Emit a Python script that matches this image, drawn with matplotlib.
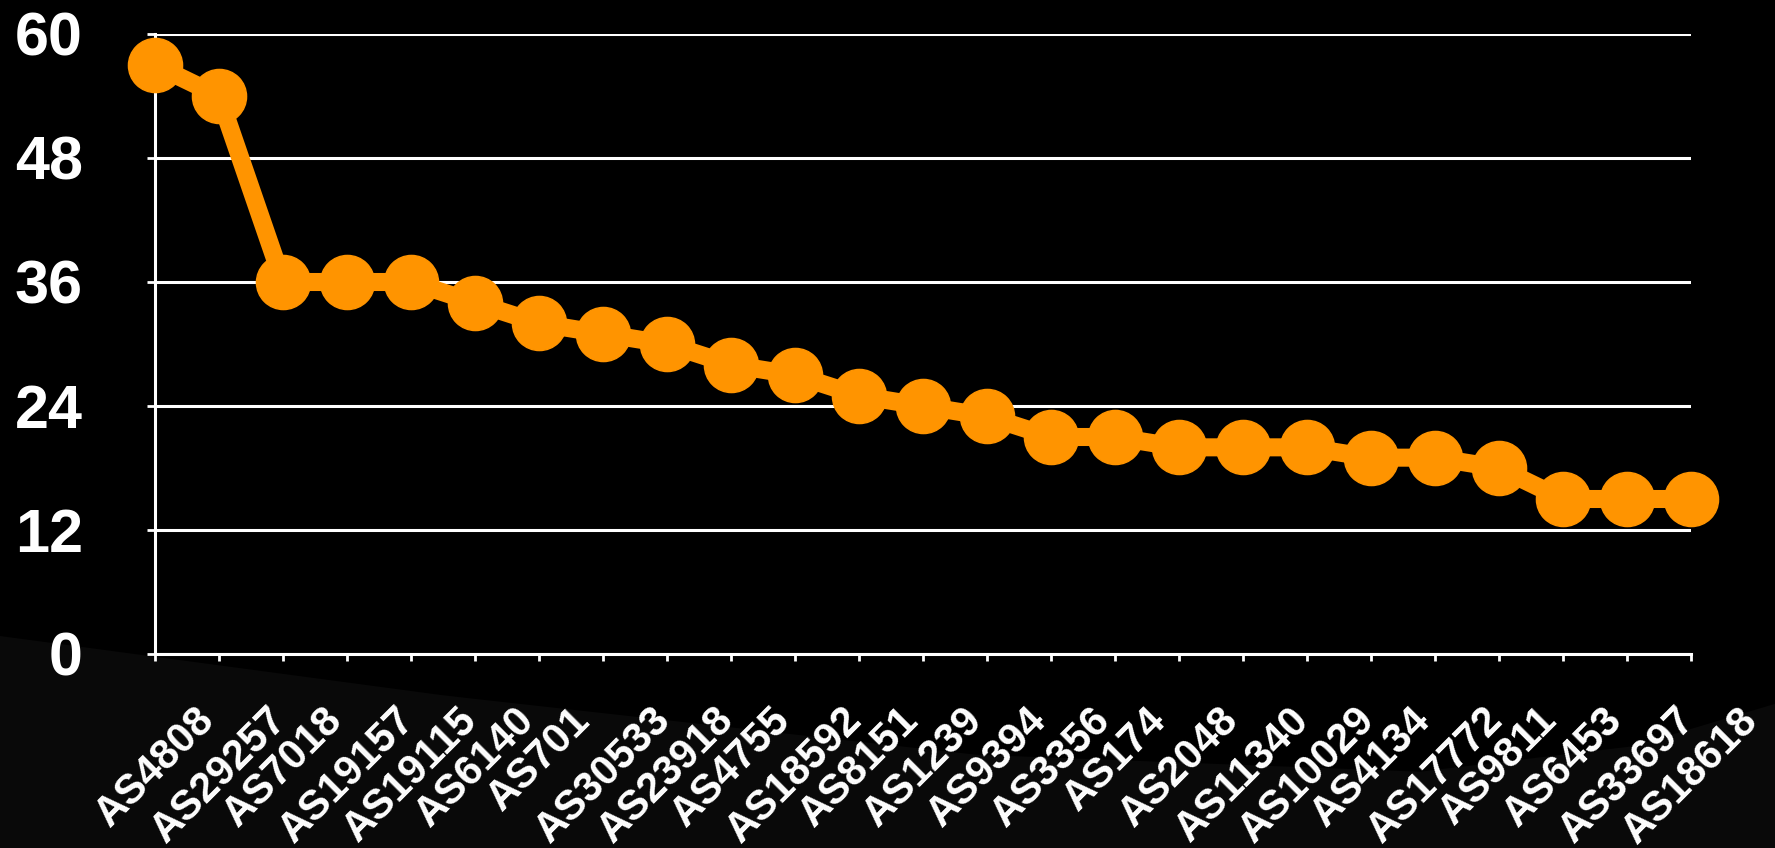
import numpy as np
import matplotlib.pyplot as plt
from matplotlib.patches import Polygon

# AS names and counts
asns = ["AS4808", "AS29257", "AS7018", "AS19157", "AS19115", "AS6140", "AS701",
        "AS30533", "AS23918", "AS4755", "AS18592", "AS8151", "AS1239", "AS9394",
        "AS3356", "AS174", "AS2048", "AS11340", "AS10029", "AS4134", "AS17772",
        "AS9811", "AS6453", "AS33697", "AS18618"]
counts = [57, 54, 36, 36, 36, 34, 32, 31, 30, 28, 27, 25, 24, 23, 21, 21,
          20, 20, 20, 19, 19, 18, 15, 15, 15]
yticks = [0, 12, 24, 36, 48, 60]

plt.rcParams['font.family'] = ['Liberation Sans', 'DejaVu Sans']

fig = plt.figure(figsize=(17.75, 8.48), dpi=100, facecolor='black')

# faint background swoosh
swoosh = Polygon([[0, 0.25], [0.25, 0.18], [0.55, 0.11], [0.8, 0.09], [0.92, 0.12],
                  [1.0, 0.17], [1.0, 0.0], [0, 0.0]], closed=True, transform=fig.transFigure,
                 facecolor='#090909', edgecolor='none', zorder=-10)
fig.patches.append(swoosh)

ax = fig.add_axes([155 / 1775, 1 - 654 / 848, (1691 - 155) / 1775, (654 - 34) / 848])
ax.set_facecolor('none')
ax.set_zorder(5)

x = np.arange(len(asns))
ax.plot(x, counts, '-o', color='#ff9400', lw=13, markersize=39, clip_on=False, zorder=3)

ax.set_xlim(0, len(asns) - 1)
ax.set_ylim(0, 60)
ax.set_yticks(yticks)
ax.set_xticks(x)
ax.set_xticklabels(asns, rotation=45, ha='center', va='top', fontsize=30,
                   fontweight='bold', color='white')
ax.set_yticklabels([str(t) for t in yticks], fontsize=44, fontweight='bold', color='white')
ax.grid(axis='y', color='white', lw=2.2)
ax.set_axisbelow(True)

for s in ['top', 'right']:
    ax.spines[s].set_visible(False)
for s in ['left', 'bottom']:
    ax.spines[s].set_color('white')
    ax.spines[s].set_linewidth(2.2)

ax.tick_params(axis='x', colors='white', length=5, width=2, pad=28)
ax.tick_params(axis='y', colors='white', length=6, width=2, pad=46)

fig.savefig('out.png', dpi=100, facecolor='black')
